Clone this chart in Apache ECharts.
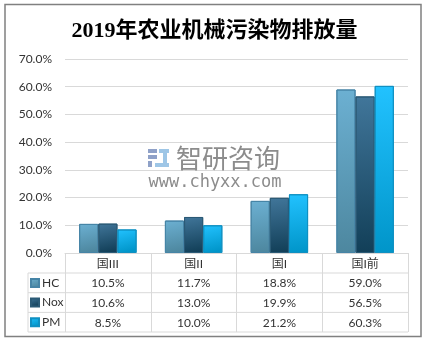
<!DOCTYPE html>
<html><head><meta charset="utf-8">
<script src="https://cdn.jsdelivr.net/npm/echarts@6/dist/echarts.min.js"></script>
<style>html,body{margin:0;padding:0;background:#fff}#c{width:429px;height:341px}</style>
</head><body><div id="c"></div>
<script>
const categories = ['国III', '国II', '国I', '国I前'];
const seriesNames = ['HC', 'Nox', 'PM'];
const hcValues = [10.5, 11.7, 18.8, 59.0];
const noxValues = [10.6, 13.0, 19.9, 56.5];
const pmValues = [8.5, 10.0, 21.2, 60.3];
const yTicks = [0, 10, 20, 30, 40, 50, 60, 70];

const allValues = [hcValues, noxValues, pmValues];
const grads = [
  ['#6cb0d2', '#4d879f', '#4684a6'],
  ['#41769a', '#123f58', '#2b5a76'],
  ['#22c2ff', '#0095c9', '#0f90c2']
];
function grad(c){
  return new echarts.graphic.LinearGradient(0,0,0.35,1,[{offset:0,color:c[0]},{offset:1,color:c[1]}]);
}
const FONT = 'Lato, "Noto Sans CJK SC", sans-serif';
const chart = echarts.init(document.getElementById('c'), null, {renderer:'canvas'});
const option = {
  animation:false,
  backgroundColor:'#fff',
  title:{text:'2019年农业机械污染物排放量', left:'center', top:15,
    textStyle:{fontFamily:'"Liberation Serif","Noto Sans CJK SC",serif', fontWeight:'bold', fontSize:22, color:'#000'}},
  grid:{left:65, right:21, top:59, bottom:88},
  legend:{orient:'vertical', left:30, top:276, padding:0, itemWidth:8, itemHeight:8, itemGap:5.6, icon:'rect',
    data:seriesNames, textStyle:{fontFamily:FONT, fontSize:12, color:'#333', lineHeight:14, padding:[0,0,0,-2]}},
  xAxis:{type:'category', data:categories,
    axisLine:{lineStyle:{color:'#d9d9d9'}},
    axisTick:{show:true, length:79, interval:0, lineStyle:{color:'#d9d9d9'}},
    axisLabel:{margin:5, fontFamily:FONT, fontSize:12, color:'#333', interval:0}},
  yAxis:{type:'value', min:yTicks[0], max:yTicks[yTicks.length-1], interval:10,
    axisLine:{show:false}, axisTick:{show:false},
    splitLine:{lineStyle:{color:'#d9d9d9'}},
    axisLabel:{margin:13, fontFamily:FONT, fontSize:12, color:'#333', formatter:v=>v.toFixed(1)+'%'}},
  series: seriesNames.map((n,i)=>({
    name:n, type:'bar', data:allValues[i], barGap:'0%', barCategoryGap:'33%',
    itemStyle:{color:grad(grads[i]), borderColor:grads[i][2], borderWidth:1}
  }))
};
chart.setOption(option);

const g = [];
g.push({type:'rect', shape:{x:5, y:4.5, width:416, height:332}, style:{fill:'none', stroke:'#808080', lineWidth:1.5}, silent:true});
const rowYs = [273, 292.7, 312.4, 332];
const x0 = 28;
const xEnd = chart.convertToPixel({xAxisIndex:0}, categories.length-1) + (chart.convertToPixel({xAxisIndex:0}, 1)-chart.convertToPixel({xAxisIndex:0}, 0))/2;
rowYs.forEach(y=>g.push({type:'line', shape:{x1:x0, y1:y, x2:xEnd, y2:y}, style:{stroke:'#d9d9d9', lineWidth:1}, silent:true}));
g.push({type:'line', shape:{x1:x0, y1:rowYs[0], x2:x0, y2:rowYs[3]}, style:{stroke:'#d9d9d9', lineWidth:1}, silent:true});
allValues.forEach((vals,si)=>{
  vals.forEach((v,ci)=>{
    const x = chart.convertToPixel({xAxisIndex:0}, ci);
    g.push({type:'text', x:x, y:(rowYs[si]+rowYs[si+1])/2+0.5, silent:true,
      style:{text:v.toFixed(1)+'%', fontFamily:FONT, fontSize:12, fill:'#333', align:'center', verticalAlign:'middle'}});
  });
});
// watermark
g.push({type:'group', silent:true, children:[
  {type:'rect', shape:{x:148, y:149, width:9, height:4}, style:{fill:'#8fa1c8'}},
  {type:'rect', shape:{x:148, y:155, width:9, height:4}, style:{fill:'#8fa1c8'}},
  {type:'rect', shape:{x:148, y:161, width:4, height:6}, style:{fill:'#8fa1c8'}},
  {type:'rect', shape:{x:159, y:149, width:10, height:4}, style:{fill:'#9ec6e6'}},
  {type:'rect', shape:{x:163, y:153, width:4, height:10}, style:{fill:'#9ec6e6'}},
  {type:'rect', shape:{x:155, y:163, width:14, height:4}, style:{fill:'#9ec6e6'}},
  {type:'text', x:228, y:158, style:{text:'智研咨询', fontFamily:'"Noto Sans CJK SC",sans-serif', fontSize:26, fill:'#8c8c8c', align:'center', verticalAlign:'middle'}},
  {type:'text', x:215, y:183, style:{text:'www.chyxx.com', fontFamily:'"DejaVu Sans Mono",monospace', fontSize:17, fill:'#8c8c8c', align:'center', verticalAlign:'middle'}}
]});
chart.setOption({graphic:g});
</script></body></html>
